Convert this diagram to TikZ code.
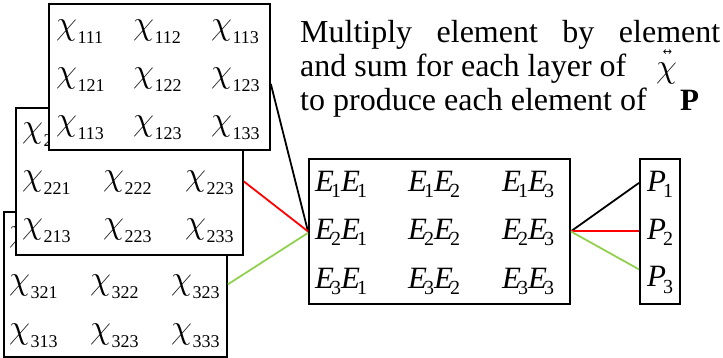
\RequirePackage{fix-cm}
\documentclass[tikz,border=0pt]{standalone}
\usepackage{fontspec}
\setmainfont{Liberation Serif}
\newfontfamily\arrowfont{DejaVu Sans}
\definecolor{lgreen}{RGB}{146,208,80}
\newcommand\chifont{\fontsize{34}{34}\selectfont}
\newcommand\subfont{\fontsize{18}{18}\selectfont\upshape}
\newcommand\cx[1]{{\chifont$\chi$}\kern0.5pt\raisebox{-9pt}{\subfont #1}}
\newcommand\Efont{\fontsize{31}{31}\selectfont\itshape}
\newcommand\Esubfont{\fontsize{20}{20}\selectfont\upshape}
\newcommand\ee[2]{{\Efont E}\kern-3pt\raisebox{-6pt}{\Esubfont #1}{\Efont E}\kern-3pt\raisebox{-6pt}{\Esubfont #2}}
\newcommand\pp[1]{{\Efont P}\kern-3pt\raisebox{-6pt}{\Esubfont #1}}
\tikzset{
  box/.style={draw, line width=1.8pt, fill=white, anchor=north west, inner sep=0pt},
  ent/.style={anchor=base west, inner sep=0pt},
  txt/.style={anchor=base west, inner sep=0pt, font=\fontsize{32}{32}\selectfont},
  conn/.style={line width=1.8pt}
}
\begin{document}
\begin{tikzpicture}[x=1pt,y=-1pt]
\useasboundingbox (0,0) rectangle (723,358);
% box 3
\node[box, minimum width=223pt, minimum height=145pt] (b3) at (3,211) {};
\node[ent] (c311) at (9,242) {\cx{311}};
\node[ent] (c312) at (90,242) {\cx{312}};
\node[ent] (c313) at (171,242) {\cx{313}};
\node[ent] (c321) at (9,290) {\cx{321}};
\node[ent] (c322) at (90,290) {\cx{322}};
\node[ent] (c323) at (171,290) {\cx{323}};
\node[ent] (c331) at (9,338) {\cx{313}};
\node[ent] (c332) at (90,338) {\cx{323}};
\node[ent] (c333) at (171,338) {\cx{333}};
% box 2
\node[box, minimum width=227pt, minimum height=147pt] (b2) at (15,107) {};
\node[ent] (c211) at (22,138) {\cx{211}};
\node[ent] (c212) at (103,138) {\cx{212}};
\node[ent] (c213) at (185,138) {\cx{213}};
\node[ent] (c221) at (22,186) {\cx{221}};
\node[ent] (c222) at (103,186) {\cx{222}};
\node[ent] (c223) at (185,186) {\cx{223}};
\node[ent] (c231) at (22,234) {\cx{213}};
\node[ent] (c232) at (103,234) {\cx{223}};
\node[ent] (c233) at (185,234) {\cx{233}};
% box 1
\node[box, minimum width=221pt, minimum height=146pt] (b1) at (48,3) {};
\node[ent] (c111) at (56,35) {\cx{111}};
\node[ent] (c112) at (133,35) {\cx{112}};
\node[ent] (c113) at (211,35) {\cx{113}};
\node[ent] (c121) at (56,83) {\cx{121}};
\node[ent] (c122) at (133,83) {\cx{122}};
\node[ent] (c123) at (211,83) {\cx{123}};
\node[ent] (c131) at (56,131) {\cx{113}};
\node[ent] (c132) at (133,131) {\cx{123}};
\node[ent] (c133) at (211,131) {\cx{133}};
% E box
\node[box, minimum width=261pt, minimum height=145pt] (E) at (308,158) {};
\node[ent] (e11) at (315,192) {\ee{1}{1}};
\node[ent] (e12) at (408,192) {\ee{1}{2}};
\node[ent] (e13) at (502,192) {\ee{1}{3}};
\node[ent] (e21) at (315,240) {\ee{2}{1}};
\node[ent] (e22) at (408,240) {\ee{2}{2}};
\node[ent] (e23) at (502,240) {\ee{2}{3}};
\node[ent] (e31) at (315,288) {\ee{3}{1}};
\node[ent] (e32) at (408,288) {\ee{3}{2}};
\node[ent] (e33) at (502,288) {\ee{3}{3}};
% P box
\node[box, minimum width=40pt, minimum height=145pt] (P) at (639,158) {};
\node[ent] (p1) at (647,192) {\pp{1}};
\node[ent] (p2) at (647,240) {\pp{2}};
\node[ent] (p3) at (647,287) {\pp{3}};
% text
\node[txt] (l1) at (300,43) {\makebox[420pt][s]{Multiply element by element}};
\node[txt] (l2) at (300,77) {and sum for each layer of};
\node[txt] (l3) at (300,111) {to produce each element of};
\node[ent] (chi) at (656,78) {{\chifont$\chi$}\llap{\raisebox{22pt}{\arrowfont\fontsize{11}{11}\selectfont ↔}\kern5pt}};
\node[ent] (bP) at (680,111) {\fontsize{31}{31}\selectfont\bfseries P};
% connectors
\draw[conn] ([yshift=-7pt]b1.east) -- (E.west);
\draw[conn, red] (b2.east) -- (E.west);
\draw[conn, lgreen] (b3.east) -- ([yshift=-1.5pt]E.west);
\draw[conn] (E.east) -- ([yshift=48.5pt]P.west);
\draw[conn, red] (E.east) -- (P.west);
\draw[conn, lgreen] (E.east) -- ([yshift=-38pt]P.west);
\end{tikzpicture}
\end{document}
